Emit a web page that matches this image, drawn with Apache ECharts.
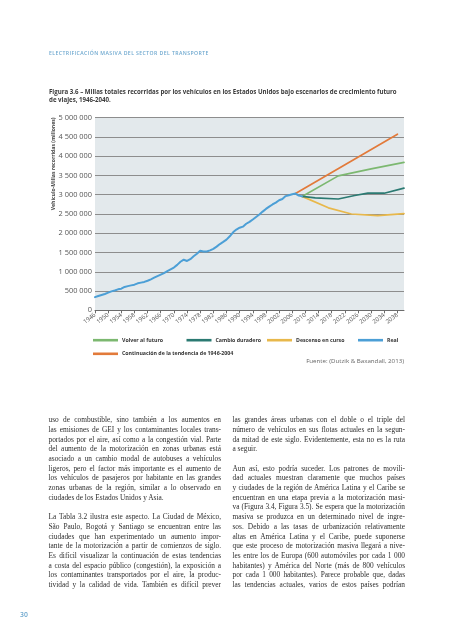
<!DOCTYPE html>
<html><head><meta charset="utf-8">
<script src="https://cdn.jsdelivr.net/npm/echarts@6/dist/echarts.min.js"></script>
<style>
html,body{margin:0;padding:0;background:#fff;width:453px;height:640px;overflow:hidden;}
#chart{position:absolute;left:0;top:0;width:453px;height:640px;}
.t{position:absolute;white-space:nowrap;}
.bl{position:absolute;text-align:justify;text-align-last:justify;font-family:"Liberation Serif",serif;color:#2e2e2e;}
.bl.last{text-align-last:left;}
</style></head><body>
<div id="chart"></div>
<div id="header" class="t">ELECTRIFICACIÓN MASIVA DEL SECTOR DEL TRANSPORTE</div>
<div id="t1" class="t">Figura 3.6 – Millas totales recorridas por los vehículos en los Estados Unidos bajo escenarios de crecimiento futuro</div>
<div id="t2" class="t">de viajes, 1946-2040.</div>
<div id="body"></div>
<div id="pg" class="t">30</div>
<script>
// ---------------- DATA ----------------
const realYears = [1946,1947,1948,1949,1950,1951,1952,1953,1954,1955,1956,1957,1958,1959,1960,1961,1962,1963,1964,1965,1966,1967,1968,1969,1970,1971,1972,1973,1974,1975,1976,1977,1978,1979,1980,1981,1982,1983,1984,1985,1986,1987,1988,1989,1990,1991,1992,1993,1994,1995,1996,1997,1998,1999,2000,2001,2002,2003,2004,2005,2006,2007,2008,2009];
const realValues = [341000,371000,398000,424000,458000,491000,514000,544000,562000,606000,628000,647000,665000,700000,719000,737000,767000,805000,846000,888000,926000,964000,1016000,1062000,1110000,1179000,1260000,1313000,1281000,1328000,1402000,1467000,1545000,1529000,1527000,1555000,1595000,1653000,1720000,1775000,1835000,1921000,2026000,2096000,2144000,2172000,2247000,2296000,2358000,2423000,2486000,2562000,2632000,2691000,2747000,2797000,2856000,2890000,2965000,2989000,3014000,3031000,2977000,2957000];

const backToFutureYears = [2009, 2020, 2030, 2040];
const backToFutureValues = [2957000, 3490000, 3670000, 3840000];

const lastingChangeYears = [2009, 2013, 2020, 2025, 2029, 2034, 2040];
const lastingChangeValues = [2957000, 2920000, 2890000, 2980000, 3040000, 3040000, 3170000];

const declineYears = [2009, 2017, 2024, 2032, 2040];
const declineValues = [2957000, 2660000, 2500000, 2460000, 2510000];

const trendYears = [2007, 2038];
const trendValues = [3031000, 4570000];

const axisStartYear = 1946, axisEndYear = 2040;
const yTicks = [0,500000,1000000,1500000,2000000,2500000,3000000,3500000,4000000,4500000,5000000];

const seriesNames = ['Volver al futuro','Cambio duradero','Descenso en curso','Real','Continuación de la tendencia de 1946-2004'];

const bodyLeft = [
 ["uso de combustible, sino también a los aumentos en",0],
 ["las emisiones de GEI y los contaminantes locales trans-",0],
 ["portados por el aire, así como a la congestión vial. Parte",0],
 ["del aumento de la motorización en zonas urbanas está",0],
 ["asociado a un cambio modal de autobuses a vehículos",0],
 ["ligeros, pero el factor más importante es el aumento de",0],
 ["los vehículos de pasajeros por habitante en las grandes",0],
 ["zonas urbanas de la región, similar a lo observado en",0],
 ["ciudades de los Estados Unidos y Asia.",1],
 ["",1],
 ["La Tabla 3.2 ilustra este aspecto. La Ciudad de México,",0],
 ["São Paulo, Bogotá y Santiago se encuentran entre las",0],
 ["ciudades que han experimentado un aumento impor-",0],
 ["tante de la motorización a partir de comienzos de siglo.",0],
 ["Es difícil visualizar la continuación de estas tendencias",0],
 ["a costa del espacio público (congestión), la exposición a",0],
 ["los contaminantes transportados por el aire, la produc-",0],
 ["tividad y la calidad de vida. También es difícil prever",0]
];
const bodyRight = [
 ["las grandes áreas urbanas con el doble o el triple del",0],
 ["número de vehículos en sus flotas actuales en la segun-",0],
 ["da mitad de este siglo. Evidentemente, esta no es la ruta",0],
 ["a seguir.",1],
 ["",1],
 ["Aun así, esto podría suceder. Los patrones de movili-",0],
 ["dad actuales muestran claramente que muchos países",0],
 ["y ciudades de la región de América Latina y el Caribe se",0],
 ["encuentran en una etapa previa a la motorización masi-",0],
 ["va (Figura 3.4, Figura 3.5). Se espera que la motorización",0],
 ["masiva se produzca en un determinado nivel de ingre-",0],
 ["sos. Debido a las tasas de urbanización relativamente",0],
 ["altas en América Latina y el Caribe, puede suponerse",0],
 ["que este proceso de motorización masiva llegará a nive-",0],
 ["les entre los de Europa (600 automóviles por cada 1 000",0],
 ["habitantes) y América del Norte (más de 800 vehículos",0],
 ["por cada 1 000 habitantes). Parece probable que, dadas",0],
 ["las tendencias actuales, varios de estos países podrían",0]
];

// ---------------- HELPERS ----------------
const cv = document.createElement('canvas').getContext('2d');
function mw(text, font){ cv.font = font; return cv.measureText(text).width; }
function fit(text, weight, fam, target, lsEm){ lsEm = lsEm||0; const w = mw(text, weight+' 100px '+fam) + lsEm*100*text.length; return 100*target/w; }
const SANS = '"Open Sans", sans-serif';

function placeText(id, cy, left, size, weight, color, fam, ls){
  const el = document.getElementById(id);
  el.style.fontFamily = fam; el.style.fontSize = size+'px'; el.style.fontWeight = weight;
  el.style.color = color; el.style.lineHeight = (size*1.3)+'px';
  el.style.left = left+'px'; el.style.top = (cy - size*0.65)+'px';
  if (ls) el.style.letterSpacing = ls+'em';
}
const hdrSize = fit('ELECTRIFICACIÓN MASIVA DEL SECTOR DEL TRANSPORTE', 600, SANS, 160, 0.08);
placeText('header', 53.3, 49, hdrSize, 600, '#6ea8cf', SANS, 0.08);
const tSize = fit(document.getElementById('t1').textContent, 700, SANS, 348);
placeText('t1', 92.3, 49, tSize, 700, '#3a3a3a', SANS);
placeText('t2', 99.6, 49, tSize, 700, '#3a3a3a', SANS);
placeText('pg', 615, 20, 6.8, 600, '#6ea8cf', SANS);

// body text
(function(){
  const fam = '"Liberation Serif", serif';
  let maxW = 0;
  bodyLeft.concat(bodyRight).forEach(l => { if (!l[1]) maxW = Math.max(maxW, mw(l[0], '100px '+fam)); });
  const colW = 172.5;
  const fs = 100*colW/maxW*0.985;
  const body = document.getElementById('body');
  const lh = 9.7, y0 = 420;
  function col(lines, x){
    lines.forEach((l,i) => {
      if (!l[0]) return;
      const d = document.createElement('div');
      d.className = 'bl' + (l[1] ? ' last' : '');
      d.textContent = l[0];
      d.style.left = x+'px'; d.style.width = colW+'px';
      d.style.fontSize = fs+'px'; d.style.lineHeight = lh+'px'; d.style.height = lh+'px';
      d.style.top = (y0 - lh/2 + i*lh)+'px';
      body.appendChild(d);
    });
  }
  col(bodyLeft, 48.5);
  col(bodyRight, 232.5);
})();

// ---------------- CHART ----------------
const categories = [];
for (let y = axisStartYear; y <= axisEndYear; y++) categories.push(String(y));
const pairs = (ys, vs) => ys.map((y,i) => [String(y), vs[i]]);
const fmt = v => String(v).replace(/\B(?=(\d{3})+(?!\d))/g, ' ');

const yLabSize = fit('5 000 000', 400, SANS, 33.5);
const legSize = fit('Continuación de la tendencia de 1946-2004', 700, SANS, 111.5);
const srcSize = fit('Fuente: (Dutzik & Baxandall, 2013)', 400, SANS, 98);
const yNameText = 'Vehículo-Millas recorridas (millones)';
const yNameSize = fit(yNameText, 700, SANS, 93);
const xLabSize = 6;

const colors = {
  'Volver al futuro':'#7cb870',
  'Cambio duradero':'#2b7a72',
  'Descenso en curso':'#e8b84b',
  'Real':'#4c9fd6',
  'Continuación de la tendencia de 1946-2004':'#e27a3a'
};

function mkLine(name, data, width){
  return {name, type:'line', data, symbol:'none', showSymbol:false, color:colors[name],
    lineStyle:{width:width, color:colors[name], cap:'round', join:'round'}, emphasis:{disabled:true}, z:3};
}
function mkLegend(name, left, top){
  return {data:[name], left, top, padding:0, icon:'rect', itemWidth:25, itemHeight:2.6, itemGap:0,
    selectedMode:false, textStyle:{fontFamily:SANS, fontSize:legSize, fontWeight:'bold', color:'#333', padding:[0,0,0,-1]}};
}

const chart = echarts.init(document.getElementById('chart'), null, {renderer:'canvas'});
chart.setOption({
  animation:false,
  backgroundColor:'transparent',
  grid:{left:95, top:117.7, width:309, height:192.6, show:true, backgroundColor:'#e3e9ec', borderWidth:0, containLabel:false},
  xAxis:{type:'category', data:categories, boundaryGap:false,
    axisLine:{show:true, lineStyle:{color:'#6b6b6b', width:1}},
    axisTick:{show:true, interval:3, length:3, lineStyle:{color:'#6b6b6b'}},
    axisLabel:{interval:3, rotate:38, fontSize:xLabSize, color:'#555', fontFamily:SANS, margin:4},
    splitLine:{show:false}},
  yAxis:{type:'value', min:0, max:5000000, interval:500000,
    axisLine:{show:false}, axisTick:{show:false},
    axisLabel:{formatter:fmt, fontSize:yLabSize, color:'#555', fontFamily:SANS, margin:3},
    splitLine:{show:true, lineStyle:{color:'#8d8d8d', width:1}}},
  legend:[
    mkLegend('Volver al futuro', 93, 337.7),
    mkLegend('Cambio duradero', 186.5, 337.7),
    mkLegend('Descenso en curso', 267, 337.7),
    mkLegend('Real', 358, 337.7),
    mkLegend('Continuación de la tendencia de 1946-2004', 93, 351.3)
  ],
  graphic:[
    {type:'text', x:53.3, y:117.5, rotation:Math.PI/2,
      style:{text:yNameText, fontFamily:SANS, fontSize:yNameSize, fontWeight:'bold', fill:'#444', align:'right', verticalAlign:'middle'}},
    {type:'text', x:404, y:361, style:{text:'Fuente: (Dutzik & Baxandall, 2013)', fontFamily:SANS, fontSize:srcSize, fill:'#666', align:'right', verticalAlign:'middle'}}
  ],
  series:[
    mkLine('Continuación de la tendencia de 1946-2004', pairs(trendYears, trendValues), 1.7),
    mkLine('Volver al futuro', pairs(backToFutureYears, backToFutureValues), 1.7),
    mkLine('Descenso en curso', pairs(declineYears, declineValues), 1.7),
    mkLine('Cambio duradero', pairs(lastingChangeYears, lastingChangeValues), 1.7),
    mkLine('Real', pairs(realYears, realValues), 2)
  ]
});
</script>
</body></html>
